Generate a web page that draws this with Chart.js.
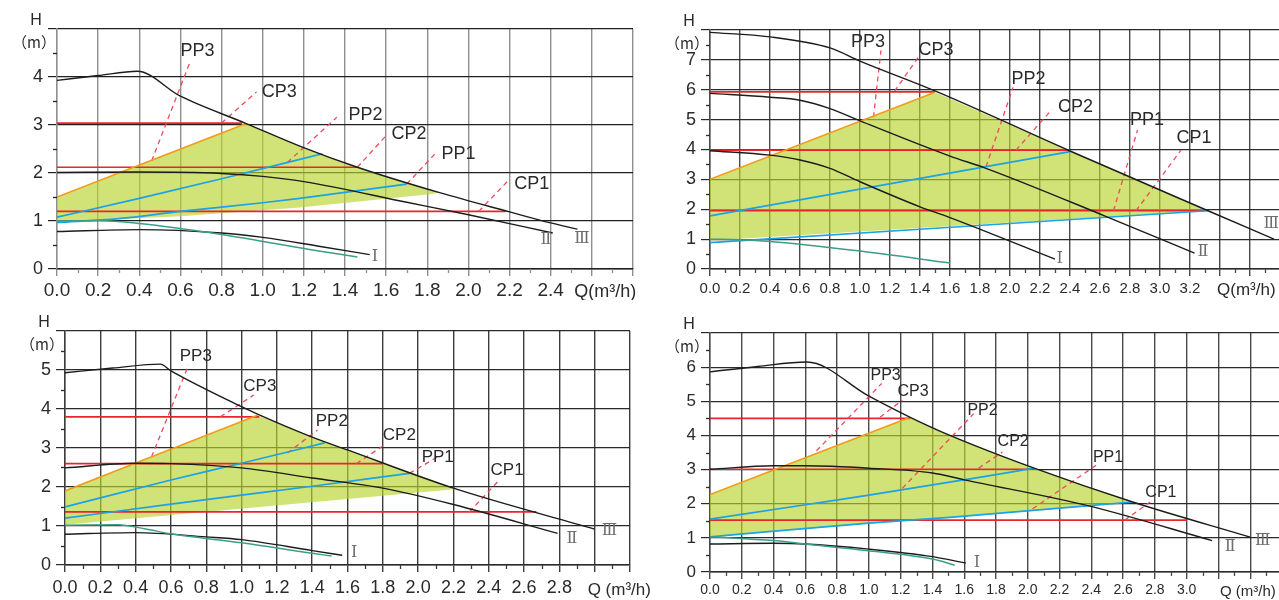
<!DOCTYPE html>
<html>
<head>
<meta charset="utf-8">
<script src="https://cdn.jsdelivr.net/npm/chart.js@4.4.1/dist/chart.umd.min.js"></script>
<style>
  html, body { margin: 0; padding: 0; background: #fff; overflow: hidden; width: 1279px; height: 600px; }
  canvas { position: absolute; }
</style>
</head>
<body>
<canvas id="c1"></canvas>
<canvas id="c3"></canvas>
<canvas id="c2"></canvas>
<canvas id="c4"></canvas>
<script>
// ---- data: [Q m3/h, H m] ----
const tags = ["PP3", "CP3", "PP2", "CP2", "PP1", "CP1"];
const romans = ["Ⅰ", "Ⅱ", "Ⅲ"];

// panel 1 (top left)
const p1CurveIII = [[0,3.93],[0.2,4.03],[0.39,4.12],[0.6,3.6],[0.92,3.03],[1.18,2.56],[1.46,2.12],[1.86,1.59],[2.2,1.19],[2.4,0.96],[2.53,0.83]];
const p1CurveII = [[0,2.01],[0.4,2.02],[0.8,1.99],[1.0,1.93],[1.2,1.82],[1.7,1.39],[2.0,1.13],[2.41,0.75]];
const p1CurveI = [[0,0.78],[0.4,0.82],[0.8,0.75],[1.0,0.66],[1.28,0.47],[1.52,0.3]];
const p1Teal = [[0,1.0],[0.2,1.01],[0.4,0.95],[0.8,0.72],[1.28,0.37],[1.46,0.25]];
const p1BlueHi = [[0,1.08],[0.4,1.47],[0.8,1.88],[1.29,2.4]];
const p1BlueLo = [[0,0.97],[0.3,1.05],[0.6,1.2],[1.0,1.38],[1.18,1.47],[1.7,1.77]];
const p1Orange = [[0,1.5],[0.92,3.03]];
const p1Zone = [[0,0.98],[0,1.5],[0.92,3.03],[1.18,2.56],[1.46,2.12],[1.86,1.59],[1.8,1.55],[1.18,1.28],[0.6,1.1],[0,0.98]];
const p1RedLevels = [3.04, 2.12, 1.2];
const p1RedEnds = [0.9, 1.46, 2.18];
const p1LeadFrom = [[0.46,2.25],[0.8,3.04],[1.12,2.22],[1.46,2.12],[1.7,1.77],[2.05,1.2]];
const p1LeadTo = [[0.65,4.35],[0.97,3.69],[1.36,3.16],[1.6,2.78],[1.84,2.41],[2.2,1.87]];

// panel 2 (top right)
const p2CurveIII = [[0,7.92],[0.4,7.77],[0.8,7.4],[1.0,6.96],[1.5,5.96],[2.4,3.95],[3.32,1.95],[3.76,1.0]];
const p2CurveII = [[0,5.88],[0.4,5.75],[0.6,5.65],[0.8,5.37],[1.0,4.96],[1.6,3.78],[1.84,3.37],[2.63,1.78],[3.23,0.53]];
const p2CurveI = [[0,3.96],[0.4,3.81],[0.6,3.65],[0.8,3.37],[1.0,2.92],[1.4,2.08],[1.6,1.72],[2.3,0.33]];
const p2Teal = [[0,1.0],[0.2,0.98],[0.4,0.92],[1.0,0.6],[1.6,0.2]];
const p2BlueHi = [[0,1.78],[2.4,3.93]];
const p2BlueLo = [[0,0.88],[3.32,1.95]];
const p2Orange = [[0,3.0],[1.5,5.92]];
const p2Zone = [[0,0.95],[0,3.0],[1.5,5.92],[2.4,3.95],[3.32,1.95],[0,0.95]];
const p2RedLevels = [5.93, 3.98, 1.95];
const p2RedEnds = [1.5, 2.4, 3.3];
const p2LeadFrom = [[1.09,5.08],[1.23,5.95],[1.84,3.42],[2.04,3.98],[2.69,1.95],[2.84,1.95]];
const p2LeadTo = [[1.14,7.32],[1.39,7.1],[2.02,6.08],[2.28,5.34],[2.85,4.65],[3.14,3.98]];

// panel 3 (bottom left)
const p3CurveIII = [[0,4.93],[0.27,5.05],[0.54,5.15],[0.6,4.98],[1.0,4.06],[1.1,3.85],[1.4,3.28],[1.6,2.95],[2.2,1.97],[3.0,0.92]];
const p3CurveII = [[0,2.49],[0.4,2.61],[0.6,2.6],[1.0,2.49],[1.4,2.23],[1.8,1.97],[2.2,1.55],[2.79,0.81]];
const p3CurveI = [[0,0.79],[0.4,0.83],[0.8,0.72],[1.0,0.65],[1.4,0.37],[1.57,0.25]];
const p3Teal = [[0,1.02],[0.3,1.03],[0.45,0.93],[0.6,0.8],[1.0,0.57],[1.4,0.3],[1.51,0.23]];
const p3BlueHi = [[0,1.49],[0.6,2.18],[1.0,2.61],[1.47,3.13]];
const p3BlueLo = [[0,1.2],[0.6,1.56],[1.0,1.79],[1.4,2.02],[1.95,2.35]];
const p3Orange = [[0,1.9],[1.09,3.84]];
const p3Zone = [[0,1.03],[0,1.9],[1.09,3.84],[1.4,3.28],[1.6,2.95],[2.22,1.95],[0,1.03]];
const p3RedLevels = [3.8, 2.6, 1.36];
const p3RedEnds = [1.1, 1.8, 2.67];
const p3LeadFrom = [[0.49,2.77],[0.88,3.8],[1.26,2.87],[1.65,2.6],[1.95,2.35],[2.29,1.36]];
const p3LeadTo = [[0.7,5.13],[1.07,4.36],[1.43,3.46],[1.8,3.05],[2.11,2.77],[2.46,2.18]];

// panel 4 (bottom right)
const p4CurveIII = [[0,5.86],[0.3,6.02],[0.61,6.15],[1.0,5.15],[1.26,4.53],[1.51,4.0],[2.04,3.04],[2.66,2.05],[3.4,1.02]];
const p4CurveII = [[0,3.01],[0.4,3.11],[0.6,3.11],[1.0,3.04],[1.4,2.9],[1.6,2.7],[2.39,1.93],[3.16,0.92]];
const p4CurveI = [[0,0.82],[0.4,0.84],[0.6,0.82],[1.0,0.67],[1.4,0.45],[1.61,0.26]];
const p4Teal = [[0,1.03],[0.4,0.92],[0.6,0.82],[1.0,0.62],[1.4,0.38],[1.54,0.2]];
const p4BlueHi = [[0,1.55],[0.6,1.97],[1.0,2.25],[1.6,2.7],[2.04,3.04]];
const p4BlueLo = [[0,1.03],[1.0,1.43],[1.51,1.6],[2.66,2.05]];
const p4Orange = [[0,2.27],[1.26,4.53]];
const p4Zone = [[0,1.03],[0,2.27],[1.26,4.53],[1.51,4.0],[2.04,3.04],[2.66,2.05],[1.51,1.6],[1.0,1.43],[0,1.03]];
const p4RedLevels = [4.5, 3.01, 1.52];
const p4RedEnds = [1.26, 2.04, 3.0];
const p4LeadFrom = [[0.67,3.55],[1.07,4.53],[1.21,2.45],[1.69,3.04],[2.03,1.85],[2.61,1.52]];
const p4LeadTo = [[1.08,5.52],[1.21,5.03],[1.66,4.64],[1.84,3.51],[2.45,3.19],[2.77,2.05]];

const SANS = '"Liberation Sans", Arial, Helvetica, sans-serif';
const SERIF = '"Liberation Serif", "DejaVu Serif", "Noto Sans CJK SC", serif';
const GREEN = "rgba(185,212,45,0.65)";
const RED = "#e8242c";
const PINK = "#ee4a5a";
const BLUE = "#1ca2e6";
const ORANGE = "#f39a1c";
const TEAL = "#3a9e88";
const INK = "#1c1c1c";

// layout / label placement for each panel
const panels = [
  { id: "c1", box: [0, 0, 650, 300], area: [57, 29, 633, 269], xMax: 2.8, xLast: 2.4, yMax: 5,
    III: p1CurveIII, II: p1CurveII, I: p1CurveI, teal: p1Teal, hi: p1BlueHi, lo: p1BlueLo, orange: p1Orange, zone: p1Zone,
    redY: p1RedLevels, redX: p1RedEnds, from: p1LeadFrom, to: p1LeadTo,
    tagAt: [[0.6,4.55],[0.995,3.69],[1.417,3.21],[1.626,2.81],[1.869,2.39],[2.223,1.76]],
    romanAt: [[1.53,0.25],[2.35,0.6],[2.515,0.62]],
    q: "Q(m³/h)", qAt: 2.515, qDy: 23, fx: 19, fy: 18, ft: 18, fq: 18, xPad: 3,
    vGrid: "#8f8f8f", hGrid: "#202020" },
  { id: "c2", box: [640, 0, 650, 300], area: [710, 30, 1290, 269], xMax: 3.84, xLast: 3.2, yMax: 8,
    III: p2CurveIII, II: p2CurveII, I: p2CurveI, teal: p2Teal, hi: p2BlueHi, lo: p2BlueLo, orange: p2Orange, zone: p2Zone,
    redY: p2RedLevels, redX: p2RedEnds, from: p2LeadFrom, to: p2LeadTo,
    tagAt: [[0.94,7.59],[1.39,7.32],[2.01,6.35],[2.32,5.42],[2.8,4.98],[3.11,4.38]],
    romanAt: [[2.31,0.33],[3.25,0.57],[3.69,1.5]],
    q: "Q(m³/h)", qAt: 3.38, qDy: 21, fx: 15, fy: 18, ft: 18, fq: 17, xPad: 4,
    vGrid: "#4a4a4a", hGrid: "#2a2a2a" },
  { id: "c3", box: [0, 300, 665, 300], area: [65, 331, 630, 565], xMax: 3.2, xLast: 2.8, yMax: 6,
    III: p3CurveIII, II: p3CurveII, I: p3CurveI, teal: p3Teal, hi: p3BlueHi, lo: p3BlueLo, orange: p3Orange, zone: p3Zone,
    redY: p3RedLevels, redX: p3RedEnds, from: p3LeadFrom, to: p3LeadTo,
    tagAt: [[0.65,5.36],[1.01,4.59],[1.42,3.69],[1.8,3.33],[2.02,2.77],[2.41,2.44]],
    romanAt: [[1.62,0.31],[2.84,0.67],[3.04,0.87]],
    q: "Q (m³/h)", qAt: 2.96, qDy: 25, fx: 18, fy: 18, ft: 17, fq: 17, xPad: 5,
    vGrid: "#3c3c3c", hGrid: "#2a2a2a" },
  { id: "c4", box: [640, 300, 645, 300], area: [710, 333, 1282, 572], xMax: 3.6, xLast: 3.0, yMax: 7,
    III: p4CurveIII, II: p4CurveII, I: p4CurveI, teal: p4Teal, hi: p4BlueHi, lo: p4BlueLo, orange: p4Orange, zone: p4Zone,
    redY: p4RedLevels, redX: p4RedEnds, from: p4LeadFrom, to: p4LeadTo,
    tagAt: [[1.01,5.76],[1.18,5.29],[1.62,4.74],[1.81,3.83],[2.41,3.36],[2.74,2.34]],
    romanAt: [[1.66,0.26],[3.24,0.73],[3.43,0.91]],
    q: "Q (m³/h)", qAt: 3.21, qDy: 20, fx: 14, fy: 17, ft: 16, fq: 15, xPad: 3,
    vGrid: "#4a4a4a", hGrid: "#2a2a2a" }
];

function pts(a) { return a.map(p => ({ x: p[0], y: p[1] })); }
function line(a, color, w, extra) {
  return Object.assign({ data: pts(a), borderColor: color, borderWidth: w, pointRadius: 0, fill: false,
    cubicInterpolationMode: "monotone" }, extra || {});
}

// minor ticks, axis titles and curve labels
const decor = {
  id: "decor",
  afterDraw(chart, args, o) {
    const ctx = chart.ctx, xs = chart.scales.x, ys = chart.scales.y, a = chart.chartArea;
    ctx.save();
    ctx.lineWidth = 1.3;
    ctx.strokeStyle = o.vGrid;
    for (let v = 0.1; v < o.xMax; v += 0.2) {
      const px = Math.round(xs.getPixelForValue(v)) + 0.5;
      ctx.beginPath(); ctx.moveTo(px, a.bottom); ctx.lineTo(px, a.bottom + 4); ctx.stroke();
    }
    ctx.strokeStyle = o.hGrid;
    for (let v = 0.5; v < o.yMax; v += 1) {
      const py = Math.round(ys.getPixelForValue(v)) + 0.5;
      ctx.beginPath(); ctx.moveTo(a.left - 4, py); ctx.lineTo(a.left, py); ctx.stroke();
    }
    ctx.fillStyle = "#2a2a2a";
    ctx.textBaseline = "middle";
    ctx.textAlign = "center";
    ctx.font = "16px " + SANS;
    ctx.fillText("H", a.left - 21, a.top - 8);
    ctx.font = '15px "Noto Sans CJK SC", ' + SANS;
    ctx.fillText("（m）", a.left - 23, a.top + 13);
    ctx.textAlign = "left";
    ctx.font = o.fq + "px " + SANS;
    ctx.fillText(o.q, xs.getPixelForValue(o.qAt), a.bottom + o.qDy);
    ctx.font = o.ft + "px " + SANS;
    tags.forEach((t, i) => {
      ctx.fillText(t, xs.getPixelForValue(o.tagAt[i][0]), ys.getPixelForValue(o.tagAt[i][1]));
    });
    ctx.fillStyle = "#6e6e6e";
    ctx.font = "16px " + SERIF;
    romans.forEach((t, i) => {
      ctx.fillText(t, xs.getPixelForValue(o.romanAt[i][0]), ys.getPixelForValue(o.romanAt[i][1]));
    });
    ctx.restore();
  }
};

panels.forEach(P => {
  const cv = document.getElementById(P.id);
  const [bl, bt, bw, bh] = P.box;
  const [al, at, ar, ab] = P.area;
  cv.width = bw; cv.height = bh;
  cv.style.left = bl + "px"; cv.style.top = bt + "px";

  const sets = [];
  sets.push({ data: pts(P.zone), fill: "shape", backgroundColor: GREEN, borderWidth: 0, pointRadius: 0, tension: 0, order: 10 });
  P.redY.forEach((y, i) => sets.push(line([[0, y], [P.redX[i], y]], RED, 1.7, { order: 5 })));
  sets.push(line(P.teal, TEAL, 1.5));
  sets.push(line(P.I, INK, 1.4));
  sets.push(line(P.II, INK, 1.4));
  sets.push(line(P.III, INK, 1.4));
  sets.push(line(P.hi, BLUE, 1.7));
  sets.push(line(P.lo, BLUE, 1.7));
  sets.push(line(P.orange, ORANGE, 1.6));
  P.from.forEach((f, i) => sets.push(line([f, P.to[i]], PINK, 1.3, { borderDash: [5, 4] })));

  new Chart(cv, {
    type: "line",
    data: { datasets: sets },
    options: {
      responsive: false,
      animation: false,
      devicePixelRatio: 1,
      layout: { padding: { left: 0, top: at - bt, right: bl + bw - ar, bottom: 0 } },
      plugins: {
        legend: { display: false },
        tooltip: { enabled: false },
        decor: P
      },
      scales: {
        x: {
          type: "linear", min: 0, max: P.xMax,
          ticks: {
            stepSize: 0.2, autoSkip: false, maxRotation: 0, padding: P.xPad, color: "#2a2a2a",
            font: { size: P.fx, family: SANS },
            callback: v => (v > P.xLast + 0.01 ? "" : Number(v).toFixed(1))
          },
          grid: { color: P.vGrid, lineWidth: 1.4, tickLength: 7, tickColor: P.vGrid },
          border: { color: P.hGrid, width: 1.4 },
          afterFit: s => { s.height = bt + bh - ab; }
        },
        y: {
          type: "linear", min: 0, max: P.yMax,
          ticks: {
            stepSize: 1, padding: 5, color: "#2a2a2a",
            font: { size: P.fy, family: SANS },
            callback: v => (v >= P.yMax ? "" : v)
          },
          grid: { color: P.hGrid, lineWidth: 1.2, tickLength: 9, tickColor: P.hGrid },
          border: { color: P.vGrid, width: 1.4 },
          afterFit: s => { s.width = al - bl; }
        }
      }
    },
    plugins: [decor]
  });
});
</script>
</body>
</html>
